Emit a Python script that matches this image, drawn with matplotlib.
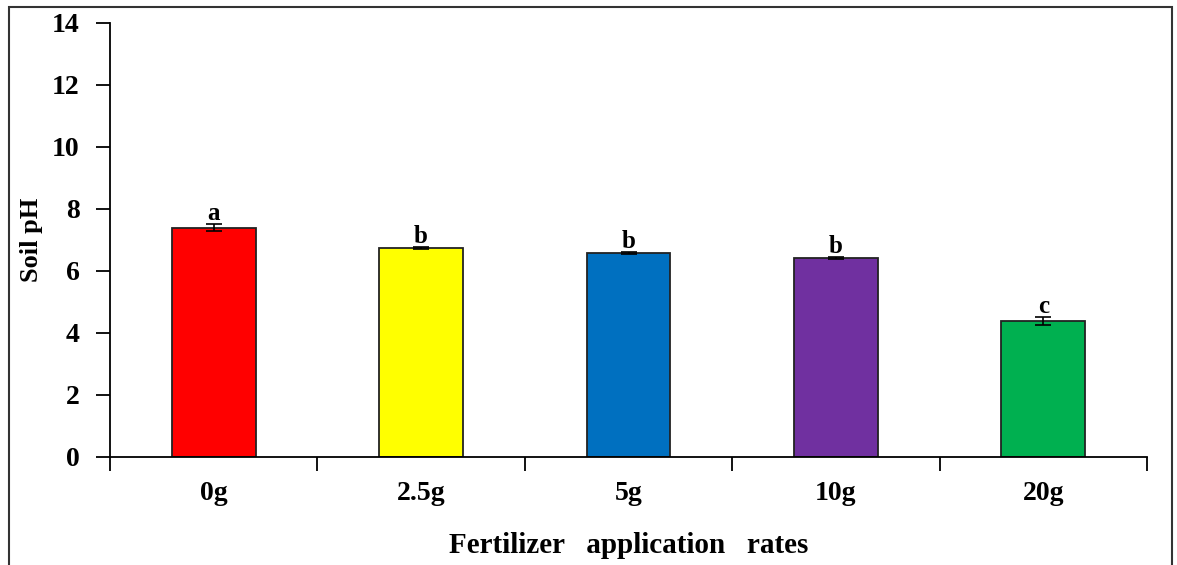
import numpy as np
import matplotlib.pyplot as plt
from matplotlib.patches import Rectangle

# data
rates = ["0g", "2.5g", "5g", "10g", "20g"]
soil_ph = [7.4, 6.75, 6.58, 6.42, 4.39]
ph_err = [0.12, 0.03, 0.03, 0.03, 0.12]
letters = ["a", "b", "b", "b", "c"]
colors = ["#ff0000", "#ffff00", "#0070c0", "#7030a0", "#00b050"]

plt.rcParams['font.family'] = ['Liberation Serif', 'DejaVu Serif']
plt.rcParams['font.weight'] = 'bold'

fig = plt.figure(figsize=(11.77, 5.65), dpi=100)
ax = fig.add_axes([110/1177, 1 - 457/565, (1147-110)/1177, (457-23)/565])

x = np.arange(len(rates))
ax.bar(x, soil_ph, width=0.405, color=colors, edgecolor="#222222", linewidth=1.3,
       yerr=ph_err, error_kw=dict(ecolor="black", elinewidth=1.2, capsize=6, capthick=1.2))
# significance letters above each bar
for xi, v, e, lab in zip(x, soil_ph, ph_err, letters):
    ax.text(xi, v + e + 0.12, lab, ha="center", va="baseline", fontsize=18, fontweight="bold")

ax.set_xlim(-0.5, len(rates) - 0.5)
ax.set_ylim(0, 14)
ax.set_yticks(np.arange(0, 15, 2))
ax.set_xticks(x)
ax.set_xticklabels(rates)
ax.set_xticks(np.arange(-0.5, len(rates)), minor=True)
ax.tick_params(axis="x", which="major", length=0, pad=17, labelsize=20)
ax.tick_params(axis="x", which="minor", length=10, width=1.3, direction="out")
ax.tick_params(axis="y", length=10, width=1.3, direction="out", pad=12, labelsize=20)
for s in ["top", "right"]:
    ax.spines[s].set_visible(False)
for s in ["left", "bottom"]:
    ax.spines[s].set_linewidth(1.3)

ax.set_ylabel("Soil pH", fontsize=19, fontweight="bold", labelpad=6)
ax.set_xlabel("Fertilizer   application   rates", fontsize=21, fontweight="bold", labelpad=19)

# outer border of the figure
fig.patches.append(Rectangle((9/1177, -0.05), (1172-9)/1177, 1.05 - 7/565,
                             transform=fig.transFigure, fill=False,
                             edgecolor="#333333", linewidth=1.5))

fig.savefig("out.png", dpi=100)
